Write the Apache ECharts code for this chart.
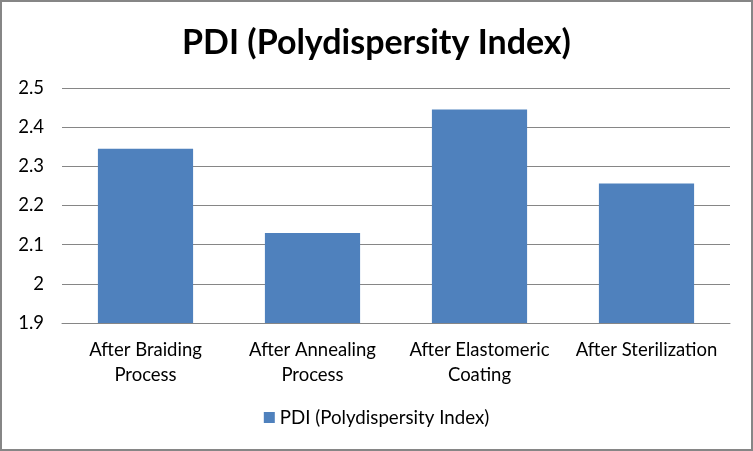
<!DOCTYPE html>
<html>
<head>
<meta charset="utf-8">
<script src="https://cdn.jsdelivr.net/npm/echarts@6/dist/echarts.min.js"></script>
<style>
html,body{margin:0;padding:0;background:#fff;}
#c{width:753px;height:451px;box-sizing:border-box;border:2px solid #868686;}
</style>
</head>
<body>
<div id="c"></div>
<script>
const categories = ["After Braiding\nProcess", "After Annealing\nProcess", "After Elastomeric\nCoating", "After Sterilization"];
const pdiValues = [2.345, 2.13, 2.445, 2.256];
const seriesName = "PDI (Polydispersity Index)";
const titleText = "PDI (Polydispersity Index)";

const chart = echarts.init(document.getElementById('c'));
const font = "Lato, 'Open Sans', sans-serif";
chart.setOption({
  animation: false,
  title: {
    text: titleText,
    left: 'center',
    top: 19,
    textStyle: {fontFamily: font, fontSize: 34, fontWeight: 'bold', color: '#000'}
  },
  legend: {
    data: [seriesName],
    bottom: 17,
    left: 'center',
    itemWidth: 11,
    itemHeight: 11,
    itemGap: 7,
    icon: 'rect',
    textStyle: {fontFamily: font, fontSize: 18.7, color: '#000'}
  },
  grid: {left: 60, right: 21, top: 86, bottom: 126, containLabel: false},
  xAxis: {
    type: 'category',
    data: categories,
    axisLine: {lineStyle: {color: '#868686', width: 1}},
    axisTick: {show: false},
    axisLabel: {fontFamily: font, fontSize: 18.5, color: '#000', margin: 15, lineHeight: 25, interval: 0}
  },
  yAxis: {
    type: 'value',
    min: 1.9,
    max: 2.5,
    interval: 0.1,
    axisLine: {show: false},
    axisTick: {show: false},
    splitLine: {lineStyle: {color: '#868686', width: 1}},
    axisLabel: {fontFamily: font, fontSize: 18.5, color: '#000', margin: 18,
      formatter: v => String(Math.round(v * 10) / 10)}
  },
  series: [{
    name: seriesName,
    type: 'bar',
    data: pdiValues,
    barCategoryGap: '43%',
    itemStyle: {color: '#4F81BD'}
  }]
});
</script>
</body>
</html>
